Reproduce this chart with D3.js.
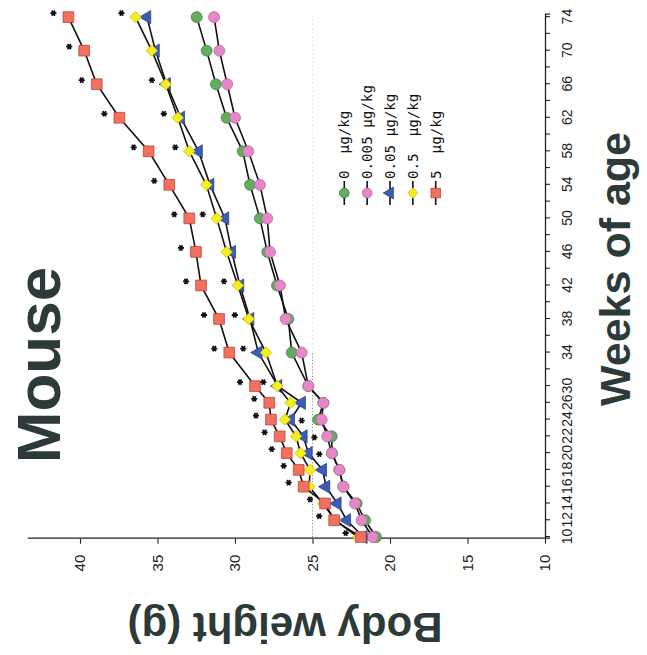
<!DOCTYPE html>
<html>
<head>
<meta charset="utf-8">
<script src="https://cdn.jsdelivr.net/npm/d3@7"></script>
<style>
  html, body { margin: 0; padding: 0; background: #fff; }
  svg { display: block; }
</style>
</head>
<body>
<svg id="chart" width="647" height="655"></svg>
<script>
// Body weight (g) by week of age, per dose group
const weeks = [10, 12, 14, 16, 18, 20, 22, 24, 26, 30, 34, 38, 42, 46, 50, 54, 58, 62, 66, 70, 74];
const dose0    = [20.90, 21.61, 22.15, 23.01, 23.27, 23.74, 23.76, 24.63, 24.30, 25.27, 26.34, 26.56, 27.29, 27.92, 28.39, 29.03, 29.50, 30.54, 31.23, 31.83, 32.47];
const dose0005 = [21.12, 21.83, 22.26, 23.01, 23.27, 23.76, 24.05, 24.41, 24.30, 25.27, 25.70, 26.73, 27.10, 27.74, 27.92, 28.39, 29.14, 30.00, 30.50, 31.01, 31.35];
const dose005  = [21.72, 22.79, 23.40, 24.13, 24.34, 25.27, 25.59, 26.41, 25.70, 27.23, 28.50, 29.03, 29.68, 30.21, 30.65, 31.61, 32.35, 33.50, 34.41, 35.13, 35.68];
const dose05   = [22.06, 23.55, 24.32, 25.21, 25.16, 25.77, 26.06, 26.77, 26.42, 27.27, 28.00, 29.11, 29.81, 30.54, 31.18, 31.85, 32.95, 33.69, 34.46, 35.37, 36.42];
const dose5    = [21.89, 23.60, 24.19, 25.57, 25.89, 26.66, 27.12, 27.68, 27.79, 28.71, 30.37, 31.03, 32.19, 32.52, 32.95, 34.24, 35.57, 37.46, 38.92, 39.73, 40.75];

const seriesNames = ["0  µg/kg", "0.005 µg/kg", "0.05 µg/kg", "0.5  µg/kg", "5  µg/kg"];

// Axis ticks and labels
const weekTicks = [10, 12, 14, 16, 18, 20, 22, 24, 26, 30, 32, 34, 36, 38, 40, 42, 44, 46, 48, 50,
                   52, 54, 56, 58, 60, 62, 64, 66, 68, 70, 72, 74];
const weekTickLabels = [10, 12, 14, 16, 18, 20, 22, 24, 26, 30, 34, 38, 42, 46, 50, 54, 58, 62, 66, 70, 74];
const weightTicks = [10, 15, 20, 25, 30, 35, 40];

// Weeks flagged as significant (*)
const sigWeeks5   = [10, 12, 14, 16, 18, 20, 22, 24, 26, 30, 34, 38, 42, 46, 50, 54, 58, 62, 66, 70, 74];
const sigWeeks05  = [30, 38, 42, 50, 58, 62, 66, 74];
const sigWeeks005 = [34];
const sigWeeks005Right = [20, 22, 24];

const W = 647, H = 655;
const FONT = "'Liberation Sans', Arial, Helvetica, sans-serif";

const svg = d3.select("#chart");
svg.append("rect").attr("width", W).attr("height", H).attr("fill", "#fff");

// The chart is laid out upright (weeks across, weight up) and turned a quarter turn anticlockwise.
const g = svg.append("g").attr("transform", `translate(0,${H}) rotate(-90)`);

// Week positions: measurement weeks are evenly spaced up to 30, then every 4 weeks
const x = d3.scaleLinear()
  .domain([9.8, 26, 30, 74.3])
  .range([116.3, 252.2, 268.9, 640.4]);
const y = d3.scaleLinear()
  .domain([10, 43.4])
  .range([545, 27.3]);

// Reference line at 25 g
g.append("line")
  .attr("x1", x(10)).attr("x2", x(34))
  .attr("y1", y(25)).attr("y2", y(25))
  .attr("stroke", "#8a8a8a").attr("stroke-width", 1)
  .attr("stroke-dasharray", "1.2,2");
g.append("line")
  .attr("x1", x(34)).attr("x2", x(74.3))
  .attr("y1", y(25)).attr("y2", y(25))
  .attr("stroke", "#dcdcdc").attr("stroke-width", 1)
  .attr("stroke-dasharray", "1.2,3");

// Axes
const xAxis = d3.axisBottom(x)
  .tickValues(weekTicks)
  .tickSize(5).tickSizeOuter(5).tickPadding(12)
  .tickFormat(d => weekTickLabels.includes(d) ? String(d) : "");
const gx = g.append("g").attr("transform", `translate(0,${y(10)})`).call(xAxis);
gx.attr("font-family", FONT).attr("font-size", 14);

const yAxis = d3.axisLeft(y)
  .tickValues(weightTicks)
  .tickSize(5).tickSizeOuter(0).tickPadding(11);
const gy = g.append("g").attr("transform", `translate(${x(9.8)},0)`).call(yAxis);
gy.attr("font-family", FONT).attr("font-size", 15);

[gx, gy].forEach(a => {
  a.select(".domain").attr("stroke", "#222").attr("stroke-width", 1.3);
  a.selectAll(".tick line").attr("stroke", "#222").attr("stroke-width", 1.1);
  a.selectAll(".tick text").attr("fill", "#1c1c1c");
});

// Series
const series = [
  { name: seriesNames[0], values: dose0,    fill: "#63ad5f", stroke: "#3f7d3d", symbol: d3.symbolCircle,   size: 95,  rot: 0 },
  { name: seriesNames[1], values: dose0005, fill: "#e688c8", stroke: "#b0629a", symbol: d3.symbolCircle,   size: 95,  rot: 0 },
  { name: seriesNames[2], values: dose005,  fill: "#3b5db8", stroke: "#23397a", symbol: d3.symbolTriangle, size: 75,  rot: 0 },
  { name: seriesNames[3], values: dose05,   fill: "#f4ee1d", stroke: "#c2b900", symbol: d3.symbolSquare,   size: 66,  rot: 45 },
  { name: seriesNames[4], values: dose5,    fill: "#f2705f", stroke: "#b53a2c", symbol: d3.symbolSquare,   size: 115, rot: 0 }
];

const line = d3.line()
  .x(d => x(d.week))
  .y(d => y(d.value));

series.forEach(s => {
  const pts = weeks.map((w, i) => ({ week: w, value: s.values[i] }));
  g.append("path")
    .datum(pts)
    .attr("d", line)
    .attr("fill", "none")
    .attr("stroke", "#111")
    .attr("stroke-width", 1.6);
  const sym = d3.symbol().type(s.symbol).size(s.size);
  g.append("g").selectAll("path")
    .data(pts)
    .join("path")
    .attr("d", sym)
    .attr("transform", d => `translate(${x(d.week)},${y(d.value)}) rotate(${s.rot})`)
    .attr("fill", s.fill)
    .attr("stroke", s.stroke)
    .attr("stroke-width", 0.7);
});

// Significance asterisks
const star = d3.symbol().type(d3.symbolAsterisk).size(26);
function addStars(sigWeeks, values, dx, dy) {
  g.append("g").selectAll("path")
    .data(sigWeeks)
    .join("path")
    .attr("d", star)
    .attr("transform", w => `translate(${x(w) + dx},${y(values[weeks.indexOf(w)]) + dy})`)
    .attr("fill", "none")
    .attr("stroke", "#111")
    .attr("stroke-width", 1.8);
}
addStars(sigWeeks5, dose5, 4, -15);
addStars(sigWeeks05, dose05, 4, -14);
addStars(sigWeeks005, dose005, 4, -15);
addStars(sigWeeks005Right, dose005, -1, 11);

// Legend
const legend = g.append("g");
series.forEach((s, i) => {
  const ly = 344.3 + i * 22.85;
  const item = legend.append("g").attr("transform", `translate(0,${ly})`);
  item.append("line")
    .attr("x1", 450).attr("x2", 474).attr("y1", 0).attr("y2", 0)
    .attr("stroke", "#111").attr("stroke-width", 1.6);
  item.append("path")
    .attr("d", d3.symbol().type(s.symbol).size(s.size * 0.8))
    .attr("transform", `translate(462,0) rotate(${s.rot})`)
    .attr("fill", s.fill)
    .attr("stroke", s.stroke)
    .attr("stroke-width", 0.7);
  item.append("text")
    .attr("x", 476).attr("y", 0).attr("dy", "0.36em")
    .attr("font-family", "'DejaVu Sans Mono', 'Liberation Mono', monospace")
    .attr("font-size", 14.2)
    .attr("fill", "#111")
    .style("white-space", "pre")
    .text(s.name);
});

// Titles
g.append("text")
  .attr("x", 290).attr("y", 60)
  .attr("text-anchor", "middle")
  .attr("font-family", FONT).attr("font-weight", "bold").attr("font-size", 62)
  .attr("fill", "#2c3a39")
  .text("Mouse");

g.append("text")
  .attr("x", 386).attr("y", 630)
  .attr("text-anchor", "middle")
  .attr("font-family", FONT).attr("font-weight", "bold").attr("font-size", 43)
  .attr("fill", "#2c3a39")
  .text("Weeks of age");

g.append("text")
  .attr("transform", "translate(42,285) rotate(-90)")
  .attr("text-anchor", "middle")
  .attr("font-family", FONT).attr("font-weight", "bold").attr("font-size", 42)
  .attr("fill", "#2c3a39")
  .text("Body weight (g)");
</script>
</body>
</html>
